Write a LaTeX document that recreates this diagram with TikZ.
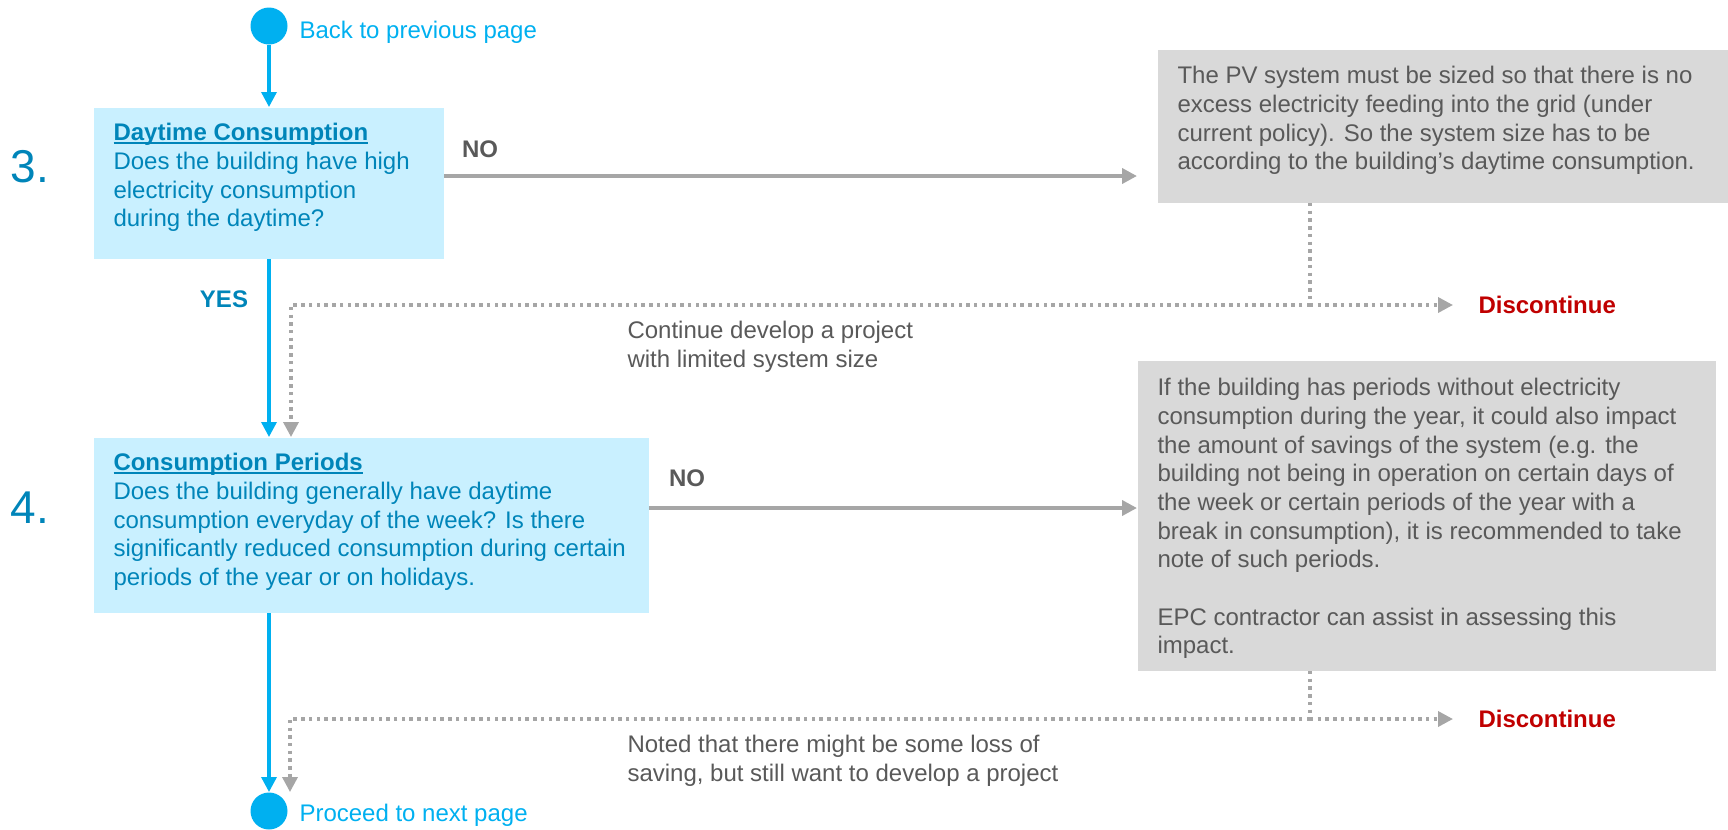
\documentclass[tikz,border=0pt]{standalone}
\usepackage{fontspec}
\setmainfont{Liberation Sans}
\usetikzlibrary{arrows.meta}

\definecolor{flowblue}{RGB}{0,176,240}
\definecolor{qfill}{RGB}{201,240,255}
\definecolor{qtext}{RGB}{0,133,185}
\definecolor{notefill}{RGB}{217,217,217}
\definecolor{notetext}{RGB}{89,89,89}
\definecolor{linkgray}{RGB}{166,166,166}
\definecolor{stopred}{RGB}{192,0,0}

\newcommand\flowfont{\fontsize{18}{21.5}\selectfont}
\newcommand\stepfont{\fontsize{34.5}{40}\selectfont}
\newcommand\steptitle[1]{\setbox0\hbox{\textbf{#1}}\rlap{\copy0}\rule[-2.4pt]{\wd0}{1.3pt}}

\tikzset{every picture/.style={line width=0.75pt}}
\tikzset{
  qbox/.style={fill=qfill, inner sep=0, anchor=north west},
  notebox/.style={fill=notefill, inner sep=0, anchor=north west},
  qlabel/.style={text=qtext, font=\flowfont, align=left, anchor=north west, inner sep=0},
  notelabel/.style={text=notetext, font=\flowfont, align=left, anchor=north west, inner sep=0},
  pageend/.style={circle, fill=flowblue, minimum size=27.75pt, inner sep=0},
  tip/.style={-{Triangle[length=11.25pt,width=11.25pt]}},
  flow/.style={draw=flowblue, line width=2.5pt, tip},
  nolink/.style={draw=linkgray, line width=3pt, tip},
  dotlink/.style={draw=linkgray, line width=2.6pt, dash pattern=on 2.6pt off 3.2pt},
}

\begin{document}
\begin{tikzpicture}[x=0.75pt,y=0.75pt,yscale=-1,xscale=1]
\useasboundingbox (0,0) rectangle (1728,829);

%Shape: Circle
\node[pageend] (top) at (269,26) {};
%Shape: Circle
\node[pageend] (fin) at (269,811) {};

%Shape: Rectangle
\node[qbox, minimum width=262.5pt, minimum height=113.25pt] (q3) at (93,107) {};
%Shape: Rectangle
\node[qbox, minimum width=416.25pt, minimum height=131.25pt] (q4) at (93,437) {};
%Shape: Rectangle
\node[notebox, minimum width=428.25pt, minimum height=114.75pt] (pv) at (1157,49) {};
%Shape: Rectangle
\node[notebox, minimum width=433.5pt, minimum height=232.5pt] (pv2) at (1137,360) {};

% Text Node
\node[text=flowblue, font=\flowfont, anchor=west, inner sep=0] (backlbl) at (299,32) {Back to previous page};
% Text Node
\node[text=flowblue, font=\flowfont, anchor=west, inner sep=0] (nextlbl) at (299,815) {Proceed to next page};
% Text Node
\node[text=qtext, font=\stepfont, inner sep=0] (num3) at (30,167) {3.};
% Text Node
\node[text=qtext, font=\stepfont, inner sep=0] (num4) at (30,508) {4.};
% Text Node
\node[qlabel] (q3txt) at (113,123) {\steptitle{Daytime Consumption}\\Does the building have high\\electricity consumption\\during the daytime?};
% Text Node
\node[qlabel] (q4txt) at (113,453) {\steptitle{Consumption Periods}\\Does the building generally have daytime\\consumption everyday of the week? Is there\\significantly reduced consumption during certain\\periods of the year or on holidays.};
% Text Node
\node[notelabel] (pvtxt) at (1177,66) {The PV system must be sized so that there is no\\excess electricity feeding into the grid (under\\current policy). So the system size has to be\\according to the building’s daytime consumption.};
% Text Node
\node[notelabel] (pv2txt) at (1157,378) {If the building has periods without electricity\\consumption during the year, it could also impact\\the amount of savings of the system (e.g. the\\building not being in operation on certain days of\\the week or certain periods of the year with a\\break in consumption), it is recommended to take\\note of such periods.\\[21.5pt]EPC contractor can assist in assessing this\\impact.};
% Text Node
\node[notelabel] (go3txt) at (627,321) {Continue develop a project\\with limited system size};
% Text Node
\node[notelabel] (go4txt) at (627,735) {Noted that there might be some loss of\\saving, but still want to develop a project};
% Text Node
\node[text=qtext, font=\flowfont\bfseries, inner sep=0] (yes3) at (224,299) {YES};
% Text Node
\node[text=notetext, font=\flowfont\bfseries, inner sep=0] (no3) at (480,149) {NO};
% Text Node
\node[text=notetext, font=\flowfont\bfseries, inner sep=0] (no4) at (687,478) {NO};
% Text Node
\node[text=stopred, font=\flowfont\bfseries, anchor=west, inner sep=0] (stop3) at (1478,305) {Discontinue};
% Text Node
\node[text=stopred, font=\flowfont\bfseries, anchor=west, inner sep=0] (stop4) at (1478,719) {Discontinue};

% bends of the links
\coordinate (r3) at (0,176);
\coordinate (r4) at (0,508);
\coordinate (j3) at (1310,305);
\coordinate (c3) at (291,305);
\coordinate (j4) at (1310,719);
\coordinate (c4) at (290,719);

%Straight Lines
\draw[flow] (top) -- (top |- q3.north);
\draw[flow] (top |- q3.south) -- (top |- q4.north);
\draw[flow] (top |- q4.south) -- (fin);
%Straight Lines
\draw[nolink, shorten >=15pt] (q3.east |- r3) -- (pv.west |- r3);
\draw[nolink] (q4.east |- r4) -- (pv2.west |- r4);
%Dotted Lines
\draw[dotlink] (pv.south -| j3) -- (j3);
\draw[dotlink, tip, shorten >=18.75pt] (j3) -- (stop3.west);
\draw[dotlink, tip] (j3) -- (c3) -- (c3 |- q4.north);
\draw[dotlink] (pv2.south -| j4) -- (j4);
\draw[dotlink, tip, shorten >=18.75pt] (j4) -- (stop4.west);
\draw[dotlink, tip] (j4) -- (c4) -- (c4 |- fin.north);

\end{tikzpicture}
\end{document}
